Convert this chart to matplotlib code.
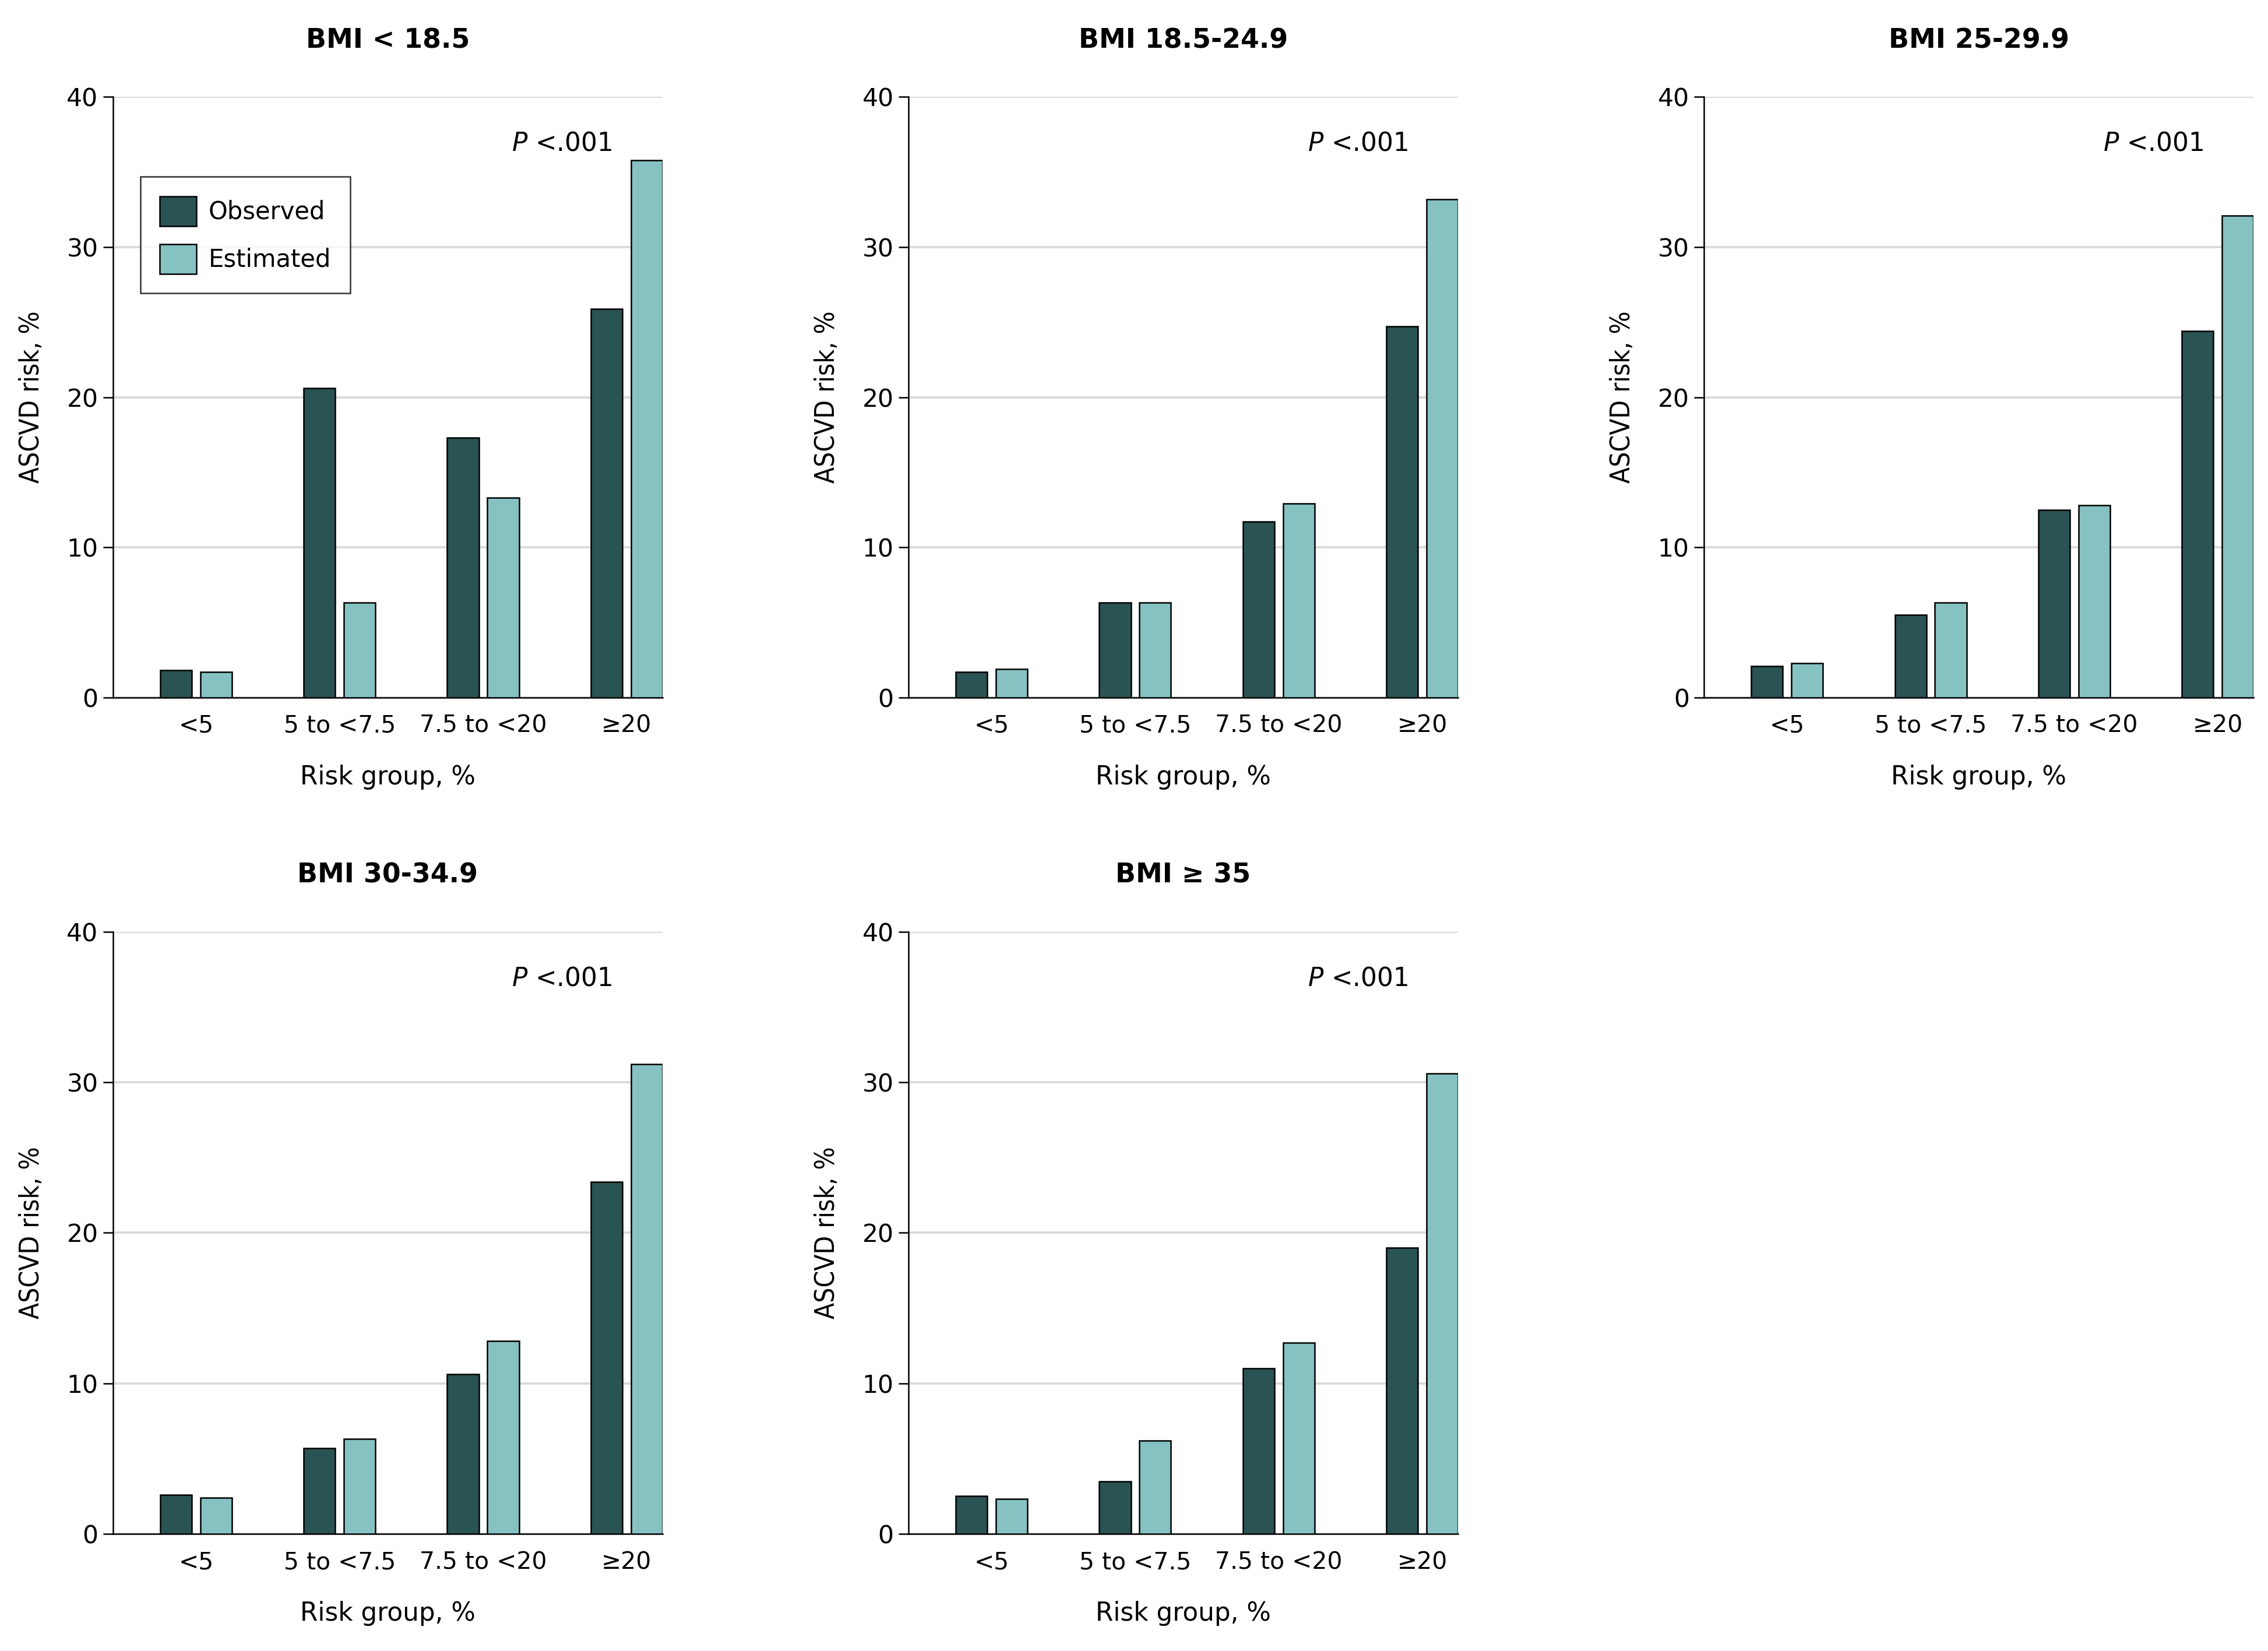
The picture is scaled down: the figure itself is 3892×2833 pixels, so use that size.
import matplotlib
matplotlib.use("Agg")
import matplotlib.pyplot as plt
import numpy as np

# data
groups = ["<5", "5 to <7.5", "7.5 to <20", "≥20"]
titles = ["BMI < 18.5", "BMI 18.5-24.9", "BMI 25-29.9", "BMI 30-34.9", "BMI ≥ 35"]
observed = [
    [1.8, 20.6, 17.3, 25.9],
    [1.7, 6.3, 11.7, 24.7],
    [2.1, 5.5, 12.5, 24.4],
    [2.6, 5.7, 10.6, 23.4],
    [2.5, 3.5, 11.0, 19.0],
]
estimated = [
    [1.7, 6.3, 13.3, 35.8],
    [1.9, 6.3, 12.9, 33.2],
    [2.3, 6.3, 12.8, 32.1],
    [2.4, 6.3, 12.8, 31.2],
    [2.3, 6.2, 12.7, 30.6],
]
p_text = "P <.001"

obs_color = "#2A5353"
est_color = "#86C2C1"
grid_color = "#D9D9D9"

plt.rcParams["font.family"] = ["DejaVu Sans"]

fig = plt.figure(figsize=(3892 / 300, 2833 / 300), dpi=300)

W, H = 1568.0, 1141.0
lefts = [78, 628, 1178]
positions = [
    (lefts[0], 67, 482), (lefts[1], 67, 482), (lefts[2], 67, 482),
    (lefts[0], 644, 1060), (lefts[1], 644, 1060),
]
aw = 380

x = np.arange(len(groups))
bw = 0.22
off = 0.14

for i, (l, top, bot) in enumerate(positions):
    ax = fig.add_axes([l / W, 1 - bot / H, aw / W, (bot - top) / H])
    ax.bar(x - off, observed[i], bw, color=obs_color, edgecolor="black",
           linewidth=0.6, label="Observed", zorder=3)
    ax.bar(x + off, estimated[i], bw, color=est_color, edgecolor="black",
           linewidth=0.6, label="Estimated", zorder=3)

    ax.set_xlim(-0.58, 3.25)
    ax.set_ylim(0, 40)
    ax.set_yticks([0, 10, 20, 30, 40])
    ax.set_xticks(x)
    ax.set_xticklabels(groups)
    ax.tick_params(axis="x", length=0, pad=7, labelsize=9.8)
    ax.tick_params(axis="y", length=4, width=0.6, pad=2, labelsize=10.2)
    ax.grid(axis="y", color=grid_color, linewidth=0.9, zorder=0)
    ax.set_axisbelow(True)
    for s in ["top", "right"]:
        ax.spines[s].set_visible(False)
    ax.spines["left"].set_linewidth(0.6)
    ax.spines["bottom"].set_linewidth(0.6)

    ax.set_ylabel("ASCVD risk, %", fontsize=11, fontstretch="condensed")
    ax.yaxis.set_label_coords(-56 / aw, 0.5)
    ax.yaxis.label.set_va("center")
    ax.set_xlabel("Risk group, %", fontsize=10.5)
    ax.xaxis.set_label_coords(0.5, -55 / (bot - top))
    ax.xaxis.label.set_va("center")

    ax.text(0.5, 1 + 39 / (bot - top), titles[i], transform=ax.transAxes,
            ha="center", va="center", fontsize=11, fontweight="bold")
    ax.text(0.726, 0.923, "$\\it{P}$" + p_text[1:], transform=ax.transAxes,
            ha="left", va="center", fontsize=10.5)

    if i == 0:
        leg = ax.legend(loc="upper left", bbox_to_anchor=(0.05, 0.867),
                        borderaxespad=0, fontsize=10, frameon=True,
                        fancybox=False, handlelength=1.5, handleheight=1.5,
                        borderpad=0.8, labelspacing=0.75, handletextpad=0.5)
        leg.get_frame().set_edgecolor("black")
        leg.get_frame().set_linewidth(0.6)

fig.savefig("out.png", dpi=300)
